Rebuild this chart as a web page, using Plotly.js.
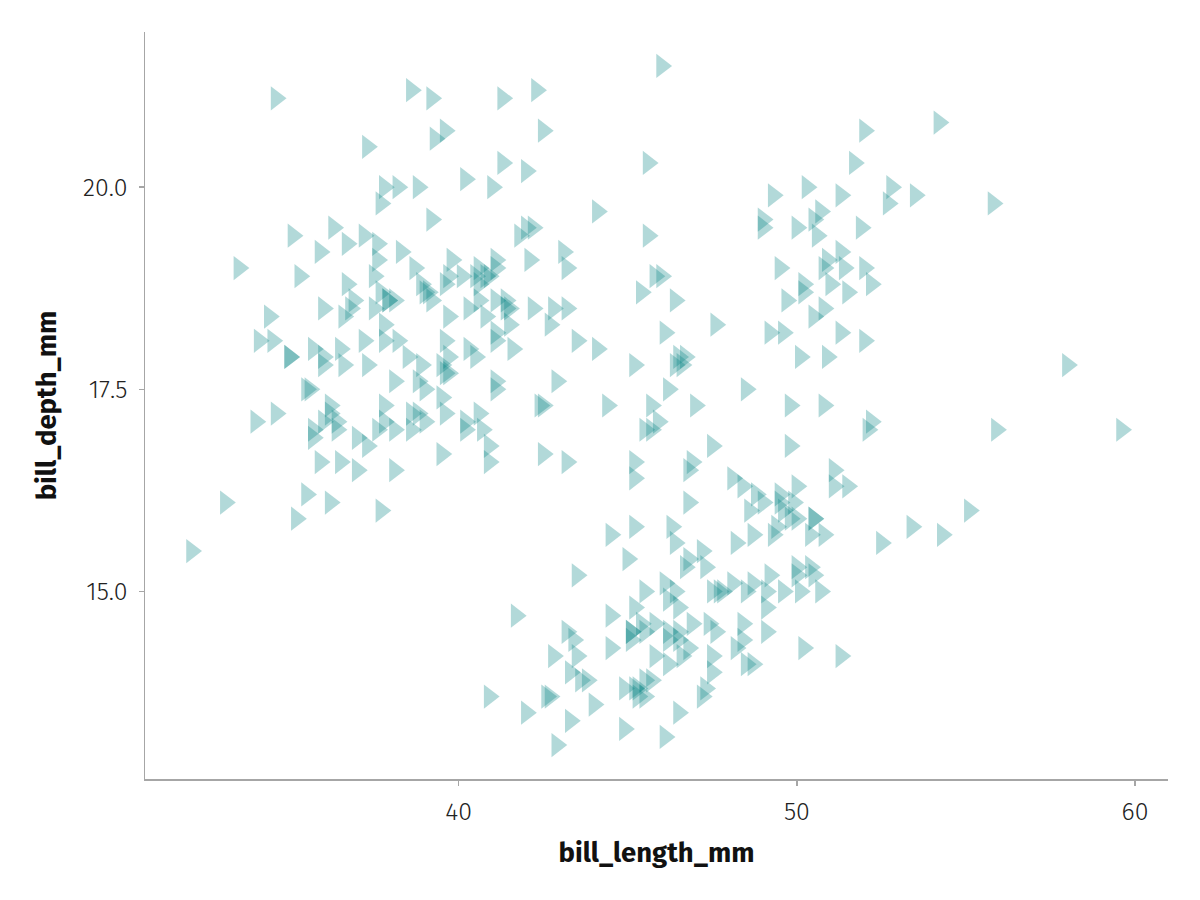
<!DOCTYPE html>
<html>
<head>
<meta charset="utf-8">
<script src="https://cdn.plot.ly/plotly-3.0.1.min.js"></script>
<style>html,body{margin:0;padding:0;background:#fff}#chart{width:1200px;height:900px}</style>
</head>
<body>
<div id="chart"></div>
<script>
// Adelie
const adelieLength = [39.1,39.5,40.3,36.7,39.3,38.9,39.2,34.1,42,37.8,37.8,41.1,38.6,34.6,36.6,38.7,42.5,34.4,46,
37.8,37.7,35.9,38.2,38.8,35.3,40.6,40.5,37.9,40.5,
39.5,37.2,39.5,40.9,36.4,39.2,38.8,42.2,37.6,39.8,36.5,40.8,36,44.1,37,39.6,41.1,37.5,36,42.3,
39.6,40.1,35,42,34.5,41.4,39,40.6,36.5,37.6,35.7,41.3,37.6,41.1,36.4,41.6,35.5,41.1,
35.9,41.8,33.5,39.7,39.6,45.8,35.5,42.8,40.9,37.2,36.2,42.1,34.6,42.9,36.7,35.1,
37.3,41.3,36.3,36.9,38.3,38.9,35.7,41.1,34,39.6,36.2,40.8,38.1,40.3,33.1,43.2,
35,41,37.7,37.8,37.9,39.7,38.6,38.2,38.1,43.2,38.1,45.6,39.7,42.2,39.6,42.7,
38.6,37.3,35.7,41.1,36.2,37.7,40.2,41.4,35.2,40.6,38.8,41.5,39,44.1,38.5,43.1,
36.8,37.5,38.1,41.1,35.6,40.2,37,39.7,40.2,40.6,32.1,40.7,37.3,39,39.2,36.6,36,37.8,36,41.5];
const adelieDepth = [18.7,17.4,18,19.3,20.6,17.8,19.6,18.1,20.2,17.1,17.3,17.6,21.2,21.1,17.8,19,20.7,18.4,21.5,
18.3,18.7,19.2,18.1,17.2,18.9,18.6,17.9,18.6,18.9,
16.7,18.1,17.8,18.9,17,21.1,20,18.5,19.3,19.1,18,18.4,18.5,19.7,16.9,18.8,19,18.9,17.9,21.2,
17.7,18.9,17.9,19.5,18.1,18.6,17.5,18.8,16.6,19.1,16.9,21.1,17,18.2,17.1,18,16.2,19.1,
16.6,19.4,19,18.4,17.2,18.9,17.5,18.5,16.8,19.4,16.1,19.1,17.2,17.6,18.8,19.4,
17.8,20.3,19.5,18.6,19.2,18.8,18,18.1,17.1,18.1,17.3,18.9,18.6,18.5,16.1,18.5,
17.9,20,16,20,18.6,18.9,17.2,20,17,19,16.5,20.3,17.7,19.5,20.7,18.3,
17,20.5,17,18.6,17.2,19.8,17,18.5,15.9,19,17.6,18.3,17.1,18,17.9,19.2,
18.5,18.5,17.6,17.5,17.5,20.1,16.5,17.9,17.1,17.2,15.5,17,16.8,18.7,18.6,18.4,17.8,18.1,17.1,18.5];
// Gentoo
const gentooLength = [46.1,50,48.7,50,47.6,46.5,45.4,46.7,43.3,46.8,40.9,49,45.5,48.4,45.8,49.3,42,49.2,46.2,48.7,
50.2,45.1,46.5,46.3,42.9,46.1,44.5,47.8,48.2,50,47.3,42.8,45.1,59.6,49.1,48.4,42.6,44.4,44,48.7,
42.7,49.6,45.3,49.6,50.5,43.6,45.5,50.5,44.9,45.2,46.6,48.5,45.1,50.1,46.5,45,43.8,45.5,43.2,50.4,
45.3,46.2,45.7,54.3,45.8,49.8,46.2,49.5,43.5,50.7,47.7,46.4,48.2,46.5,46.4,48.6,47.5,51.1,45.2,45.2,
49.1,52.5,47.4,50,44.9,50.8,43.4,51.3,47.5,52.1,47.5,52.2,45.5,49.5,44.5,50.8,49.4,46.9,48.4,51.1,
48.5,55.9,47.2,49.1,47.3,46.8,41.7,53.4,43.3,48.1,50.5,49.8,43.5,51.5,46.2,55.1,44.5,48.8,47.2,
46.8,50.4,45.2,49.9];
const gentooDepth = [13.2,16.3,14.1,15.2,14.5,13.5,14.6,15.3,13.4,15.4,13.7,16.1,13.7,14.6,14.6,15.7,13.5,15.2,14.5,15.1,
14.3,14.5,14.5,15.8,13.1,15.1,14.3,15,14.3,15.3,15.3,14.2,14.5,17,14.8,16.3,13.7,17.3,13.6,15.7,
13.7,16,13.7,15,15.9,13.9,13.9,15.9,13.3,15.8,14.2,14.1,14.4,15,14.4,15.4,13.9,15,14.5,15.3,
13.8,14.9,13.9,15.7,14.2,16.8,14.4,16.2,14.2,15,15,15.6,15.6,14.8,15,16,14.2,16.3,13.8,16.4,
14.5,15.6,14.6,15.9,13.8,17.3,14.4,14.2,14,17,15,17.1,14.5,16.1,14.7,15.7,15.8,14.6,14.4,16.5,
15,17,15.5,15,13.8,16.1,14.7,15.8,14,15.1,15.2,15.9,15.2,16.3,14.1,16,15.7,16.2,13.7,
14.3,15.7,14.8,16.1];
// Chinstrap
const chinstrapLength = [46.5,50,51.3,45.4,52.7,45.2,46.1,51.3,46,51.3,46.6,51.7,47,52,45.9,50.5,50.3,58,46.4,49.2,
42.4,48.5,43.2,50.6,46.7,52,50.5,49.5,46.4,52.8,40.9,54.2,42.5,51,49.7,47.5,47.6,52,46.9,53.5,
49,46.2,50.9,45.5,50.9,50.8,50.1,49,51.5,49.8,48.1,51.4,45.7,50.7,42.5,52.2,45.2,49.3,50.2,45.6,
51.9,46.8,45.7,55.8,43.5,49.6,50.8,50.2];
const chinstrapDepth = [17.9,19.5,19.2,18.7,19.8,17.8,18.2,18.2,18.9,19.9,17.8,20.3,17.3,18.1,17.1,19.6,20,17.8,18.6,18.2,
17.3,17.5,16.6,19.4,17.9,19,18.4,19,17.8,20,16.6,20.8,16.7,18.8,18.6,16.8,18.3,20.7,16.6,19.9,
19.5,17.5,19.1,17,17.9,18.5,17.9,19.6,18.7,17.3,16.4,19,17.3,19.7,17.3,18.8,16.6,19.9,18.8,19.4,
19.5,16.5,17,19.8,18.1,18.2,19,18.7];

const xTicks = [40, 50, 60];
const yTicks = [15, 17.5, 20];
const yTickLabels = ["15.0", "17.5", "20.0"];

const xs = adelieLength.concat(gentooLength, chinstrapLength);
const ys = adelieDepth.concat(gentooDepth, chinstrapDepth);

const trace = {
  type: 'scatter', mode: 'markers', x: xs, y: ys,
  marker: {symbol: 'triangle-right', size: 21, color: 'rgba(0,128,128,0.3)', line: {width: 0}},
  hoverinfo: 'skip'
};

const fontFam = '"Fira Sans", "Open Sans", "Noto Sans", sans-serif';
const axisCommon = {
  showgrid: false, zeroline: false, showline: true, linecolor: '#a6a6a6', linewidth: 1.5,
  ticks: 'outside', ticklen: 5, tickwidth: 1.5, tickcolor: '#a6a6a6',
  tickfont: {family: fontFam, size: 25, color: '#222', weight: 300}
};

const layout = {
  width: 1200, height: 900,
  margin: {l: 145, r: 32, t: 32, b: 121},
  paper_bgcolor: '#fff', plot_bgcolor: '#fff',
  showlegend: false,
  xaxis: Object.assign({}, axisCommon, {
    range: [30.725, 60.975], tickvals: xTicks, ticktext: xTicks.map(String),
    ticklabelstandoff: 4,
    title: {text: 'bill_length_mm', font: {family: fontFam, size: 27.5, color: '#111', weight: 700}, standoff: 17}
  }),
  yaxis: Object.assign({}, axisCommon, {
    range: [12.68, 21.92], tickvals: yTicks, ticktext: yTickLabels,
    ticklabelstandoff: 6,
    title: {text: 'bill_depth_mm', font: {family: fontFam, size: 27.5, color: '#111', weight: 700}, standoff: 18}
  })
};

Plotly.newPlot('chart', [trace], layout, {displayModeBar: false, staticPlot: true});
</script>
</body>
</html>
